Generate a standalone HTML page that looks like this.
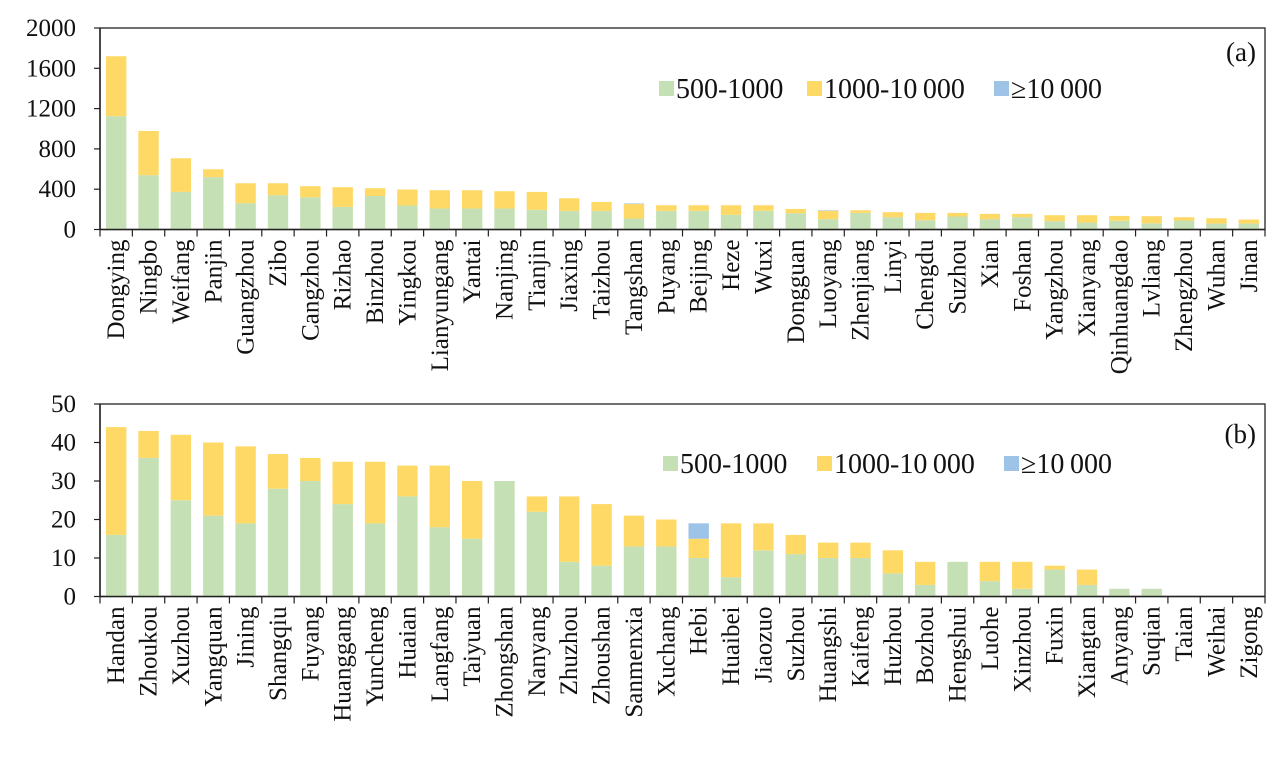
<!DOCTYPE html>
<html><head><meta charset="utf-8">
<style>
html,body{margin:0;padding:0;background:#fff;}
svg{display:block;font-family:"Liberation Serif",serif;}
</style></head>
<body>
<svg id="chart" width="1282" height="762" viewBox="0 0 1282 762" xmlns="http://www.w3.org/2000/svg"></svg>
<script>
// Panel (a) data
const citiesA = ["Dongying","Ningbo","Weifang","Panjin","Guangzhou","Zibo","Cangzhou","Rizhao","Binzhou","Yingkou","Lianyungang","Yantai","Nanjing","Tianjin","Jiaxing","Taizhou","Tangshan","Puyang","Beijing","Heze","Wuxi","Dongguan","Luoyang","Zhenjiang","Linyi","Chengdu","Suzhou","Xian","Foshan","Yangzhou","Xianyang","Qinhuangdao","Lvliang","Zhengzhou","Wuhan","Jinan"];
const greenA = [1125,539,373,519,261,340,320,224,333,238,208,208,208,195,185,185,109,185,185,145,185,162,102,165,122,92,129,102,122,83,69,86,62,89,59,59];
const yellowA = [595,439,334,79,198,119,110,196,77,159,182,182,172,178,125,89,144,56,56,96,56,42,84,26,50,73,36,53,33,59,73,49,70,33,53,40];
const blueA = [0,0,0,0,0,0,0,0,0,0,0,0,0,0,0,0,5,0,0,0,0,0,5,0,0,0,0,0,0,0,0,0,0,0,0,0];
const ticksA = [0,400,800,1200,1600,2000];
// Panel (b) data
const citiesB = ["Handan","Zhoukou","Xuzhou","Yangquan","Jining","Shangqiu","Fuyang","Huanggang","Yuncheng","Huaian","Langfang","Taiyuan","Zhongshan","Nanyang","Zhuzhou","Zhoushan","Sanmenxia","Xuchang","Hebi","Huaibei","Jiaozuo","Suzhou","Huangshi","Kaifeng","Huzhou","Bozhou","Hengshui","Luohe","Xinzhou","Fuxin","Xiangtan","Anyang","Suqian","Taian","Weihai","Zigong"];
const greenB = [16,36,25,21,19,28,30,24,19,26,18,15,30,22,9,8,13,13,10,5,12,11,10,10,6,3,9,4,2,7,3,2,2,0,0,0];
const yellowB = [28,7,17,19,20,9,6,11,16,8,16,15,0,4,17,16,8,7,5,14,7,5,4,4,6,6,0,5,7,1,4,0,0,0,0,0];
const blueB = [0,0,0,0,0,0,0,0,0,0,0,0,0,0,0,0,0,0,4,0,0,0,0,0,0,0,0,0,0,0,0,0,0,0,0,0];
const ticksB = [0,10,20,30,40,50];

const NS="http://www.w3.org/2000/svg";
const svg=document.getElementById('chart');
const COLORS={g:"#c5e0b4",y:"#ffd966",b:"#9dc3e6"};
function mk(tag,attrs,parent){const e=document.createElementNS(NS,tag);for(const k in attrs)e.setAttribute(k,attrs[k]);(parent||svg).appendChild(e);return e;}

function panel(cfg){
  const g=mk('g',{});
  
  
  const x0=100,x1=1265,top=cfg.top,bot=cfg.bot,max=cfg.ticks[cfg.ticks.length-1];
  const n=cfg.cats.length, step=(x1-x0)/n, bw=step*0.63;
  const yS=v=>bot-(v/max)*(bot-top);
  const xS=i=>x0+step*(i+0.5);
  const fr=mk('rect',{x:x0,y:top,width:x1-x0,height:bot-top,fill:"none",stroke:"#222","stroke-width":1.3},g);
  
  
  for(let i=0;i<n;i++){
    let base=0;
    [[cfg.g[i],COLORS.g,'green'],[cfg.y[i],COLORS.y,'yellow'],[cfg.b[i],COLORS.b,'blue']].forEach(([v,c,s])=>{
      if(v>0){
        const r=mk('rect',{x:xS(i)-bw/2,y:yS(base+v),width:bw,height:yS(base)-yS(base+v),fill:c},g);
        
        
      }
      base+=v;
    });
  }
  mk('line',{x1:x0,y1:bot,x2:x1,y2:bot,stroke:"#222","stroke-width":1.5},g);
  mk('line',{x1:x0,y1:top,x2:x0,y2:bot,stroke:"#222","stroke-width":1.5},g);
  for(let i=0;i<=n;i++){const x=x0+step*i;mk('line',{x1:x,y1:bot,x2:x,y2:bot+7,stroke:"#222","stroke-width":1.2},g);}
  cfg.ticks.forEach(t=>{
    const y=yS(t);
    mk('line',{x1:x0-6,y1:y,x2:x0,y2:y,stroke:"#222","stroke-width":1.2},g);
    const tx=mk('text',{x:x0-24,y:y+8,"text-anchor":"end","font-size":25,fill:"#111"},g);
    tx.textContent=t;
    
    
  });
  cfg.cats.forEach((c,i)=>{
    const x=xS(i)+8,y=bot+10;
    const tx=mk('text',{x:x,y:y,"text-anchor":"end","font-size":25,fill:"#111",transform:`rotate(-90 ${x} ${y})`},g);
    tx.textContent=c;
    
    
  });
  const L=cfg.leg;
  [[COLORS.g,"500-1000",0],[COLORS.y,"1000-10\u2009000",L.d1],[COLORS.b,"\u226510\u2009000",L.d2]].forEach(([c,t,dx])=>{
    const r=mk('rect',{x:L.x+dx,y:L.y-7,width:15,height:15,fill:c},g);
    
    
    const tx=mk('text',{x:L.x+dx+17,y:L.y+10,"font-size":28,fill:"#111"},g);
    tx.textContent=t;
    
    
  });
  const lab=mk('text',{x:1256,y:cfg.labY,"text-anchor":"end","font-size":27,fill:"#111"},g);
  lab.textContent=cfg.label;
  
  
}
panel({name:'panel-a',cats:citiesA,g:greenA,y:yellowA,b:blueA,ticks:ticksA,top:28,bot:229.5,leg:{x:659,y:88,d1:148,d2:335},label:"(a)",labY:61});
panel({name:'panel-b',cats:citiesB,g:greenB,y:yellowB,b:blueB,ticks:ticksB,top:404,bot:596.5,leg:{x:663,y:463,d1:154,d2:341},label:"(b)",labY:443});
</script>
</body></html>
